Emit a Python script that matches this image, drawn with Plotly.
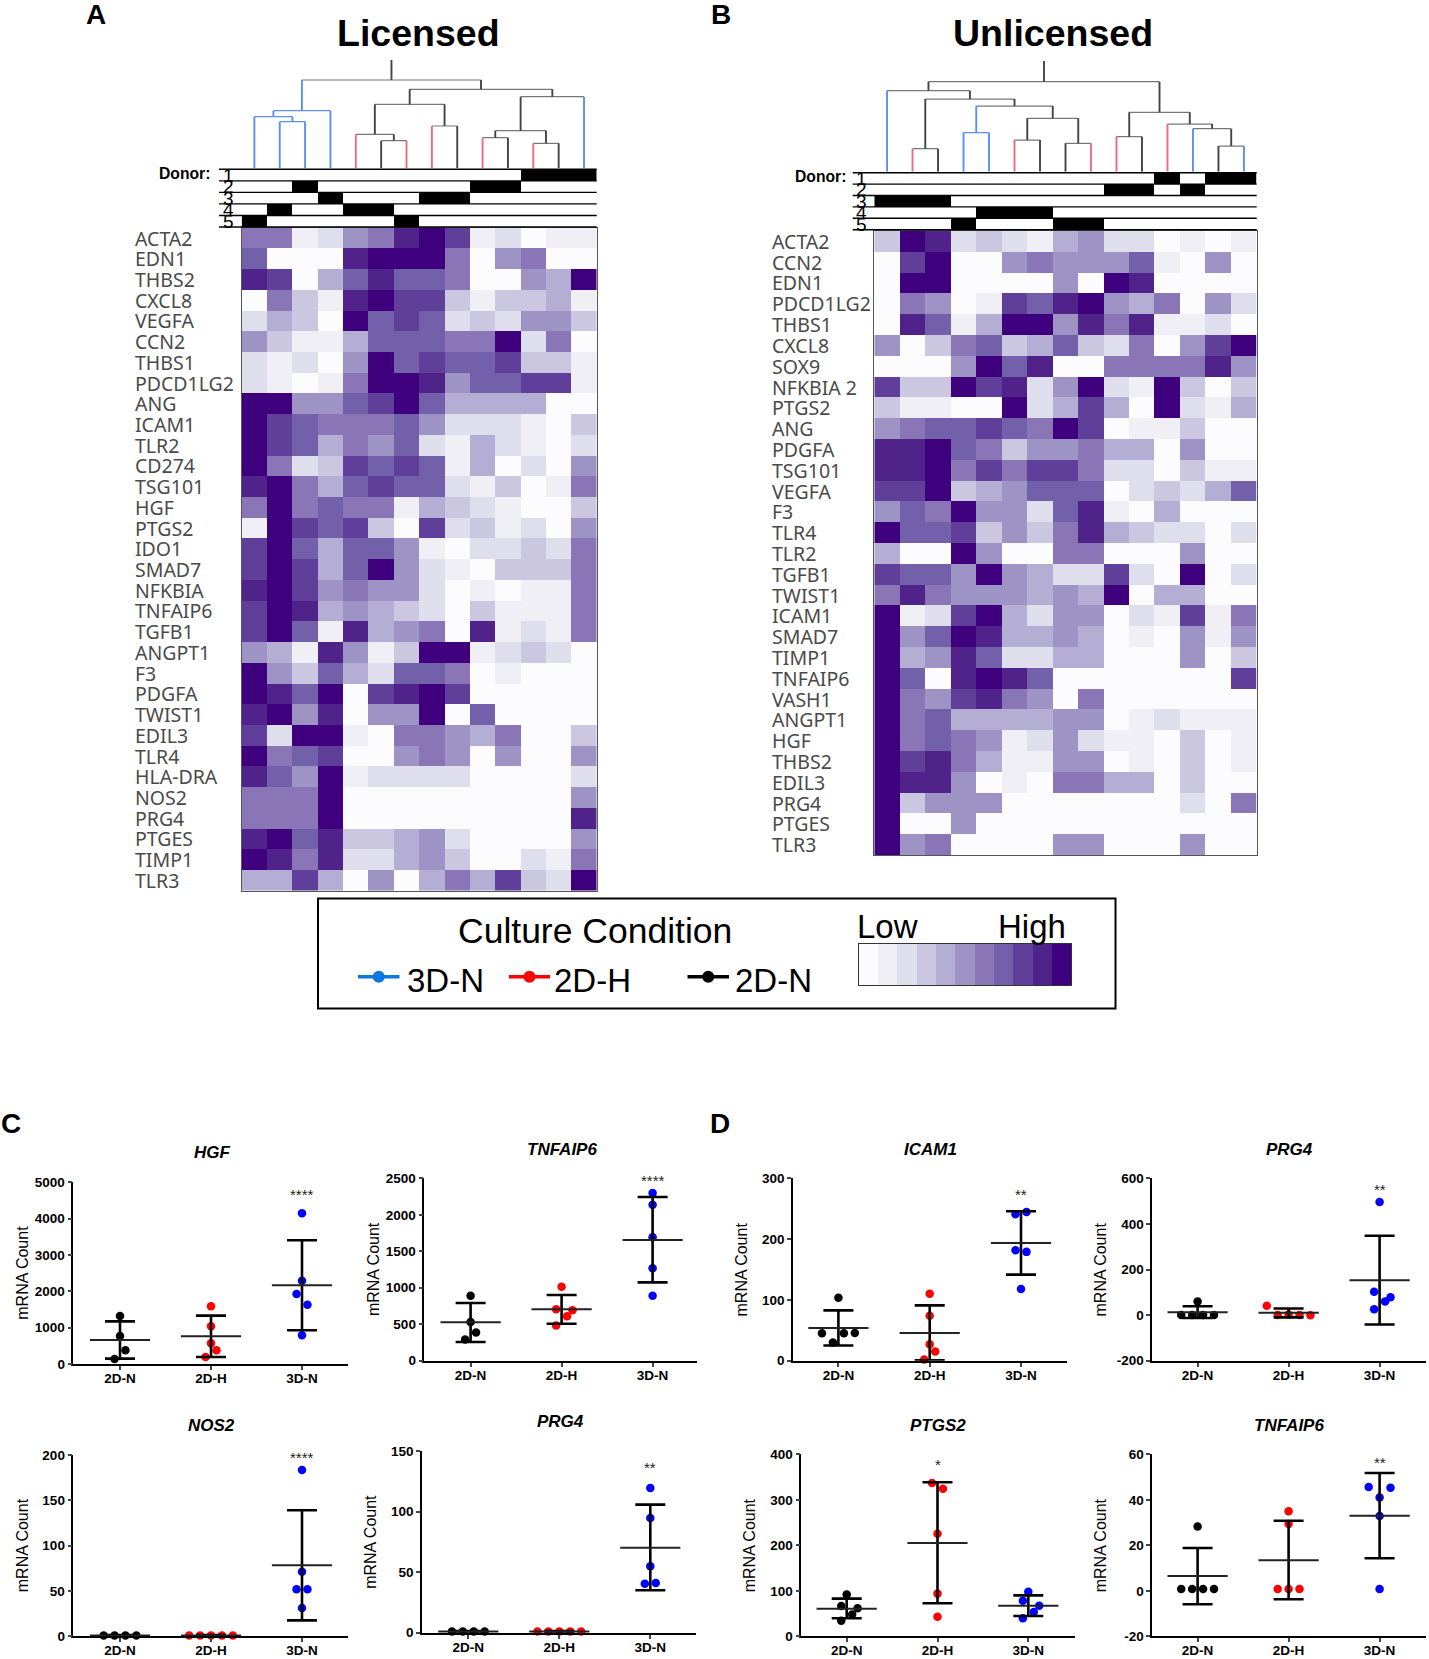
import plotly.graph_objects as go

W = 1429
H = 1659

# heatmap A, values are colour levels 0 (low) to 10 (high)
GENES_A = ["ACTA2", "EDN1", "THBS2", "CXCL8", "VEGFA", "CCN2", "THBS1", "PDCD1LG2", "ANG", "ICAM1", "TLR2",
           "CD274", "TSG101", "HGF", "PTGS2", "IDO1", "SMAD7", "NFKBIA", "TNFAIP6", "TGFB1", "ANGPT1", "F3",
           "PDGFA", "TWIST1", "EDIL3", "TLR4", "HLA-DRA", "NOS2", "PRG4", "PTGES", "TIMP1", "TLR3"]
LEVELS_A = [
    [6, 6, 1, 2, 5, 6, 9, 10, 8, 1, 2, 0, 1, 1],
    [7, 0, 0, 0, 9, 10, 10, 10, 6, 0, 5, 6, 0, 0],
    [9, 8, 0, 4, 7, 9, 7, 7, 6, 0, 0, 5, 4, 10],
    [0, 6, 3, 1, 9, 10, 8, 8, 3, 1, 3, 3, 4, 1],
    [2, 4, 3, 0, 10, 7, 8, 7, 2, 3, 2, 5, 5, 3],
    [5, 3, 1, 1, 4, 7, 7, 7, 6, 6, 10, 2, 6, 0],
    [2, 1, 2, 0, 5, 10, 7, 8, 7, 7, 8, 3, 3, 1],
    [2, 1, 0, 1, 6, 10, 10, 9, 5, 7, 7, 8, 8, 1],
    [10, 10, 5, 5, 7, 8, 10, 7, 4, 4, 4, 4, 0, 0],
    [10, 8, 7, 6, 6, 6, 7, 5, 2, 2, 2, 1, 0, 3],
    [10, 8, 7, 4, 6, 5, 7, 2, 1, 4, 2, 1, 0, 2],
    [10, 6, 2, 3, 8, 7, 8, 7, 1, 4, 0, 2, 0, 5],
    [9, 10, 6, 4, 7, 8, 7, 7, 2, 1, 3, 0, 1, 6],
    [6, 10, 6, 7, 6, 6, 1, 4, 3, 2, 1, 0, 0, 3],
    [1, 10, 8, 7, 8, 3, 0, 8, 2, 3, 1, 2, 0, 5],
    [8, 10, 7, 4, 7, 7, 5, 1, 0, 2, 2, 3, 2, 6],
    [8, 10, 8, 4, 7, 10, 5, 2, 1, 0, 3, 3, 3, 6],
    [9, 10, 8, 5, 6, 5, 5, 2, 0, 1, 0, 1, 1, 6],
    [8, 10, 9, 4, 5, 4, 3, 2, 0, 3, 1, 1, 1, 6],
    [8, 10, 7, 1, 9, 4, 5, 6, 0, 9, 1, 2, 1, 6],
    [5, 4, 1, 9, 5, 1, 3, 10, 10, 1, 2, 3, 2, 0],
    [10, 5, 3, 7, 4, 2, 7, 7, 6, 0, 1, 0, 0, 0],
    [10, 9, 7, 10, 0, 8, 9, 10, 8, 0, 0, 0, 0, 0],
    [9, 10, 5, 9, 0, 5, 5, 10, 0, 7, 0, 0, 0, 0],
    [8, 2, 10, 10, 1, 0, 6, 6, 5, 4, 6, 0, 0, 3],
    [10, 6, 7, 8, 0, 0, 5, 6, 5, 0, 5, 0, 0, 5],
    [9, 7, 5, 10, 1, 2, 2, 2, 2, 0, 0, 0, 0, 2],
    [6, 6, 6, 10, 0, 0, 0, 0, 0, 0, 0, 0, 0, 5],
    [6, 6, 6, 10, 0, 0, 0, 0, 0, 0, 0, 0, 0, 9],
    [9, 10, 7, 9, 3, 3, 4, 5, 2, 0, 0, 0, 0, 5],
    [10, 9, 6, 9, 2, 2, 4, 5, 3, 0, 0, 2, 1, 6],
    [4, 4, 8, 4, 0, 5, 0, 4, 6, 4, 8, 3, 2, 10],
]

GENES_B = ["ACTA2", "CCN2", "EDN1", "PDCD1LG2", "THBS1", "CXCL8", "SOX9", "NFKBIA 2", "PTGS2", "ANG", "PDGFA",
           "TSG101", "VEGFA", "F3", "TLR4", "TLR2", "TGFB1", "TWIST1", "ICAM1", "SMAD7", "TIMP1", "TNFAIP6",
           "VASH1", "ANGPT1", "HGF", "THBS2", "EDIL3", "PRG4", "PTGES", "TLR3"]
LEVELS_B = [
    [3, 10, 9, 2, 3, 2, 1, 4, 5, 2, 2, 0, 1, 0, 1],
    [0, 8, 10, 0, 0, 5, 6, 5, 5, 5, 7, 1, 0, 5, 0],
    [0, 10, 10, 0, 0, 0, 0, 5, 0, 10, 9, 0, 0, 0, 0],
    [0, 6, 5, 0, 1, 8, 7, 9, 10, 5, 4, 6, 0, 5, 2],
    [0, 9, 7, 1, 4, 10, 10, 5, 9, 6, 9, 1, 1, 2, 0],
    [5, 0, 3, 6, 7, 3, 4, 7, 3, 2, 6, 0, 5, 8, 10],
    [0, 0, 0, 5, 10, 7, 9, 0, 0, 6, 6, 6, 6, 9, 5],
    [8, 3, 3, 10, 8, 9, 2, 5, 10, 2, 1, 10, 3, 0, 3],
    [3, 1, 1, 0, 0, 10, 2, 4, 8, 4, 0, 10, 2, 1, 4],
    [5, 6, 7, 7, 8, 7, 6, 10, 8, 0, 1, 1, 3, 0, 0],
    [9, 9, 10, 7, 6, 3, 5, 5, 6, 4, 4, 0, 5, 0, 0],
    [9, 9, 10, 6, 8, 6, 8, 8, 6, 2, 2, 0, 3, 1, 1],
    [8, 8, 10, 3, 4, 5, 7, 7, 7, 0, 2, 3, 2, 4, 7],
    [5, 7, 6, 10, 5, 5, 2, 7, 9, 1, 0, 4, 0, 0, 0],
    [10, 7, 7, 8, 3, 5, 3, 6, 9, 4, 3, 2, 2, 0, 2],
    [4, 0, 0, 10, 5, 0, 0, 6, 6, 0, 0, 0, 5, 0, 0],
    [8, 7, 7, 5, 10, 5, 4, 2, 2, 8, 2, 0, 10, 0, 2],
    [6, 9, 6, 5, 5, 5, 4, 5, 4, 10, 0, 4, 4, 0, 0],
    [10, 1, 2, 8, 10, 4, 2, 5, 5, 0, 2, 1, 8, 1, 6],
    [10, 5, 7, 10, 9, 4, 4, 5, 4, 0, 1, 0, 5, 1, 5],
    [10, 4, 5, 9, 7, 2, 2, 4, 4, 0, 0, 0, 5, 0, 3],
    [10, 7, 0, 9, 10, 9, 7, 0, 0, 0, 0, 0, 0, 0, 8],
    [10, 6, 5, 8, 9, 6, 5, 0, 6, 0, 0, 0, 0, 0, 0],
    [10, 6, 7, 4, 4, 4, 4, 5, 5, 0, 1, 2, 1, 1, 1],
    [10, 6, 7, 6, 5, 1, 2, 5, 2, 1, 1, 0, 3, 0, 1],
    [10, 8, 9, 6, 4, 1, 1, 5, 5, 0, 1, 0, 3, 0, 1],
    [10, 9, 9, 5, 0, 1, 0, 6, 6, 4, 4, 0, 3, 0, 0],
    [10, 3, 5, 5, 5, 0, 0, 0, 0, 0, 0, 0, 2, 0, 6],
    [10, 0, 0, 5, 0, 0, 0, 0, 0, 0, 0, 0, 0, 0, 0],
    [10, 5, 6, 0, 0, 0, 0, 5, 5, 0, 0, 0, 5, 0, 0],
]

# which columns each donor (1-5) covers
DONOR_COLS_A = [[11, 12, 13], [2, 9, 10], [3, 7, 8], [1, 4, 5], [0, 6]]
DONOR_COLS_B = [[11, 13, 14], [9, 10, 12], [0, 1, 2], [4, 5, 6], [3, 7, 8]]

# dendrograms: merges as (left, right, height), ids above the leaf count are earlier merges
LEAF_COND_A = ["3D", "3D", "3D", "3D", "2H", "2N", "2H", "2H", "2N", "2H", "2N", "2H", "2N", "3D"]
MERGES_A = [(1, 2, 140), (0, 14, 155), (15, 3, 173), (5, 6, 83), (4, 17, 102), (7, 8, 127), (18, 19, 192),
            (9, 10, 92), (11, 12, 75), (21, 22, 113), (23, 13, 215), (20, 24, 237), (16, 25, 265)]
BLUE_MERGES_A = [0, 1, 2]
ROOT_TOP_A = 325

LEAF_COND_B = ["3D", "2H", "2N", "3D", "3D", "2H", "2N", "2N", "2H", "2H", "2N", "2H", "3D", "2N", "3D"]
MERGES_B = [(1, 2, 69), (3, 4, 117), (5, 6, 95), (7, 8, 85), (17, 18, 160), (16, 19, 197), (15, 20, 218),
            (0, 21, 243), (9, 10, 105), (13, 14, 77), (12, 24, 129), (11, 25, 143), (23, 26, 178), (22, 27, 270)]
BLUE_MERGES_B = [1]
ROOT_TOP_B = 333

CONDITIONS = ["2D-N", "2D-H", "3D-N"]

# dot plots: per group values and side shift of the dots, then mean and error bar ends
HGF_POINTS = [[1321, 770, 376, 138], [1587, 1037, 569, 376, 193], [4147, 2293, 1926, 1633, 789]]
HGF_DODGE = [[0, 0, 0.06, -0.06], [0, 0, 0, 0.06, -0.06], [0, 0, -0.06, 0.06, 0]]
HGF_MEAN = [660, 761, 2165]
HGF_UPPER = [1174, 1330, 3404]
HGF_LOWER = [147, 193, 927]

TNF_C_POINTS = [[891, 530, 388, 292], [1015, 704, 690, 608, 484], [2299, 2139, 1691, 1266, 891]]
TNF_C_DODGE = [[0, 0, 0.06, -0.06], [0, -0.06, 0.12, 0.06, -0.06], [0, 0, 0, 0, 0]]
TNF_C_MEAN = [526, 704, 1654]
TNF_C_UPPER = [791, 900, 2244]
TNF_C_LOWER = [256, 507, 1074]

NOS2_POINTS = [[1, 1, 1, 1], [1, 1, 1, 1, 1], [183.4, 71.3, 51.8, 51.8, 31.2]]
NOS2_DODGE = [[-0.18, -0.06, 0.06, 0.18], [-0.24, -0.12, 0, 0.12, 0.24], [0, 0, -0.06, 0.06, 0]]
NOS2_MEAN = [1, 1, 78.3]
NOS2_UPPER = [1.3, 1.3, 139]
NOS2_LOWER = [0.7, 0.7, 17.6]

PRG4_C_POINTS = [[1, 1, 1, 1], [1, 1, 1, 1, 1], [119.4, 94.7, 54.8, 40.5, 41]]
PRG4_C_DODGE = [[-0.18, -0.06, 0.06, 0.18], [-0.24, -0.12, 0, 0.12, 0.24], [0, 0, 0, -0.06, 0.06]]
PRG4_C_MEAN = [1, 1, 70.2]
PRG4_C_UPPER = [1.3, 1.3, 105.7]
PRG4_C_LOWER = [0.7, 0.7, 35]

ICAM1_POINTS = [[103.6, 45, 45, 45.5, 30], [110, 74, 27, 15, 2], [244.6, 241, 181.5, 179, 118]]
ICAM1_DODGE = [[0, -0.18, 0.06, 0.18, -0.06], [0, 0, 0, 0.06, -0.06], [0.06, -0.06, -0.06, 0.06, 0]]
ICAM1_MEAN = [53.7, 45.5, 193.6]
ICAM1_UPPER = [82.8, 91, 245.7]
ICAM1_LOWER = [25, 0.5, 141.5]

PRG4_D_POINTS = [[60, 0, 0, 0, 0], [41, 0, 3, 0, -1], [496, 102, 78, 60, 26]]
PRG4_D_DODGE = [[0, -0.18, -0.06, 0.06, 0.18], [-0.24, -0.12, 0, 0.12, 0.24], [0, -0.06, 0.12, 0.06, -0.06]]
PRG4_D_MEAN = [13, 10, 153]
PRG4_D_UPPER = [39, 29, 348]
PRG4_D_LOWER = [-13, -10, -41]

PTGS2_POINTS = [[91.6, 66.7, 61.5, 48, 34], [337, 324.5, 225.6, 93.8, 43], [98, 78, 67, 53.5, 39.6]]
PTGS2_DODGE = [[0, -0.06, 0.12, 0.06, -0.06], [-0.06, 0.06, 0, 0, 0], [0, -0.06, 0.12, 0.06, -0.06]]
PTGS2_MEAN = [60.8, 205, 67.4]
PTGS2_UPPER = [82.8, 338.5, 90]
PTGS2_LOWER = [39.6, 72.5, 44.7]

TNF_D_POINTS = [[28.3, 0.8, 0.8, 0.8, 0.8], [35, 29.4, 0.8, 0.8, 0.8], [45.6, 45.3, 41, 32.9, 0.8]]
TNF_D_DODGE = [[0, -0.18, -0.06, 0.06, 0.18], [0, 0, -0.12, 0, 0.12], [-0.12, 0.12, 0, 0, 0]]
TNF_D_MEAN = [6.5, 13.4, 33]
TNF_D_UPPER = [18.8, 30.8, 51.8]
TNF_D_LOWER = [-5.9, -3.7, 14.3]

LEVEL_COLORS = ["#fcfbfd", "#f0eff6", "#dfdeed", "#cbc7e1", "#b5aed4", "#9e93c5",
                "#8a76b7", "#7360aa", "#5f3f9a", "#4f2389", "#3f007d"]
SCALE = [[i / 10, c] for i, c in enumerate(LEVEL_COLORS)]
COND_COLORS = {"3D": "#5b8ff0", "2H": "#ee6a80", "2N": "#444444"}
DOT_COLORS = ["#000000", "#ff0000", "#0000ff"]

fig = go.Figure()
axis_count = 0
annotations = []
shapes = []


def px(x):
    return x / W


def py(y):
    return 1 - y / H


def new_axes(left, right, top, bottom, xconf, yconf):
    # registers an axis pair placed by page pixels, returns the trace refs
    global axis_count
    axis_count += 1
    n = axis_count
    xname = "x" if n == 1 else f"x{n}"
    yname = "y" if n == 1 else f"y{n}"
    fig.update_layout(**{
        f"xaxis{n}": dict(domain=[px(left), px(right)], anchor=yname, **xconf),
        f"yaxis{n}": dict(domain=[py(bottom), py(top)], anchor=xname, **yconf),
    })
    return xname, yname


def page_text(x, y, text, size, family="Liberation Sans", color="black", anchor="center", angle=0, **font):
    annotations.append(dict(xref="paper", yref="paper", x=px(x), y=py(y), text=text, showarrow=False,
                            xanchor=anchor, yanchor="middle", textangle=angle,
                            font=dict(family=family, size=size, color=color, **font)))


def draw_dendrogram(left, right, top, bottom, leaf_cond, merges, blue_merges, root_top):
    n = len(leaf_cond)
    xa, ya = new_axes(left, right, top, bottom,
                      dict(range=[-0.5, n - 0.5], visible=False),
                      dict(range=[0, root_top], visible=False))
    pos = {i: (i, 0) for i in range(n)}
    stems = {c: ([], []) for c in ["3D", "2H", "2N"]}
    bars = {"3D": ([], []), "2N": ([], [])}
    for k, (a, b, h) in enumerate(merges):
        cond = "3D" if k in blue_merges else "2N"
        for child in (a, b):
            x0, y0 = pos[child]
            if child < n:
                col = leaf_cond[child]
            else:
                col = "3D" if child - n in blue_merges else "2N"
            stems[col][0].extend([x0, x0, None])
            stems[col][1].extend([y0, h, None])
        bars[cond][0].extend([pos[a][0], pos[b][0], None])
        bars[cond][1].extend([h, h, None])
        pos[n + k] = ((pos[a][0] + pos[b][0]) / 2, h)
    # stem above the root
    last = pos[n + len(merges) - 1]
    stems["2N"][0].extend([last[0], last[0], None])
    stems["2N"][1].extend([last[1], root_top, None])
    for cond, (xs, ys) in bars.items():
        col = COND_COLORS[cond] if cond == "3D" else "#777777"
        fig.add_trace(go.Scatter(x=xs, y=ys, xaxis=xa, yaxis=ya, mode="lines", line=dict(color=col, width=1.2),
                                 hoverinfo="skip", showlegend=False))
    for cond, (xs, ys) in stems.items():
        fig.add_trace(go.Scatter(x=xs, y=ys, xaxis=xa, yaxis=ya, mode="lines",
                                 line=dict(color=COND_COLORS[cond], width=1.9),
                                 hoverinfo="skip", showlegend=False))


def draw_donors(left, right, top, bottom, line_left, num_x, donor_cols, n):
    z = [[1 if c in cols else 0 for c in range(n)] for cols in donor_cols]
    xa, ya = new_axes(left, right, top, bottom,
                      dict(range=[-0.5, n - 0.5], visible=False),
                      dict(range=[4.5, -0.5], visible=False))
    fig.add_trace(go.Heatmap(z=z, x=list(range(n)), y=list(range(5)), xaxis=xa, yaxis=ya, zmin=0, zmax=1,
                             colorscale=[[0, "white"], [1, "black"]], showscale=False, hoverinfo="skip"))
    step = (bottom - top) / 5
    for i in range(6):
        shapes.append(dict(type="line", xref="paper", yref="paper", x0=px(line_left), x1=px(right),
                           y0=py(top + i * step), y1=py(top + i * step), line=dict(color="black", width=1.4)))
    for i in range(5):
        page_text(num_x, top + (i + 0.5) * step, str(i + 1), 19)


def draw_heatmap(left, right, top, bottom, label_x, genes, levels):
    n = len(levels[0])
    xa, ya = new_axes(left, right, top, bottom,
                      dict(range=[-0.5, n - 0.5], showticklabels=False, ticks="", showgrid=False, zeroline=False,
                           mirror=True, showline=True, linecolor="#555555", linewidth=1),
                      dict(range=[len(genes) - 0.5, -0.5], showticklabels=False, ticks="", showgrid=False,
                           zeroline=False, mirror=True, showline=True, linecolor="#555555", linewidth=1))
    fig.add_trace(go.Heatmap(z=levels, x=list(range(n)), y=list(range(len(genes))), xaxis=xa, yaxis=ya,
                             zmin=0, zmax=10, colorscale=SCALE, showscale=False,
                             customdata=[[g] * n for g in genes], hovertemplate="%{customdata}: %{z}<extra></extra>"))
    step = (bottom - top) / len(genes)
    for i, g in enumerate(genes):
        page_text(label_x, top + (i + 0.5) * step, g, 19.5, family="Noto Sans", color="#4a4a4a", anchor="left")


def draw_dots(x0, x1, y_top, y_bot, c0, step, title, title_xy, label_x, yticks, points, dodge, mean, upper, lower,
              star=None):
    tickfont = dict(family="Liberation Sans", size=13.5, color="black", weight="bold")
    xa, ya = new_axes(x0, x1, y_top, y_bot,
                      dict(range=[(x0 - c0) / step, (x1 - c0) / step], tickvals=[0, 1, 2], ticktext=CONDITIONS,
                           showgrid=False, zeroline=False, showline=True, linecolor="black", linewidth=1.6,
                           ticks="outside", ticklen=4, tickwidth=1.6, tickfont=tickfont, ticklabelstandoff=-3),
                      dict(range=[yticks[0], yticks[-1]], tickvals=yticks, ticktext=[str(t) for t in yticks],
                           showgrid=False, zeroline=False, showline=True, linecolor="black", linewidth=1.6,
                           ticks="outside", ticklen=4, tickwidth=1.6, tickfont=tickfont))
    for g in range(3):
        fig.add_trace(go.Scatter(x=[g + d for d in dodge[g]], y=points[g], xaxis=xa, yaxis=ya, mode="markers",
                                 marker=dict(color=DOT_COLORS[g], size=8.5), cliponaxis=False,
                                 name=CONDITIONS[g], showlegend=False))
    fig.add_trace(go.Scatter(x=[0, 1, 2], y=mean, xaxis=xa, yaxis=ya, mode="markers", cliponaxis=False,
                             marker=dict(symbol="line-ew", size=43, color="black",
                                         line=dict(color="#222222", width=2)),
                             error_y=dict(type="data", symmetric=False, color="black", thickness=2.6, width=15,
                                          array=[u - m for u, m in zip(upper, mean)],
                                          arrayminus=[m - l for l, m in zip(lower, mean)]),
                             hoverinfo="skip", showlegend=False))
    page_text(title_xy[0], title_xy[1], title, 17, weight="bold", style="italic")
    page_text(label_x, (y_top + y_bot) / 2, "mRNA Count", 16, angle=-90)
    if star:
        annotations.append(dict(xref=xa, yref=ya, x=star[0], y=star[1], text=star[2], showarrow=False,
                                yanchor="middle", font=dict(family="Liberation Sans", size=15, color="#222222")))


# panel A
draw_dendrogram(241.7, 596.7, 60, 168.3, LEAF_COND_A, MERGES_A, BLUE_MERGES_A, ROOT_TOP_A)
draw_donors(241.7, 596.7, 169.3, 227, 219, 228, DONOR_COLS_A, 14)
draw_heatmap(241.7, 596.7, 227.7, 890.7, 133, GENES_A, LEVELS_A)
page_text(418, 33, "Licensed", 37.5, weight="bold")
page_text(185, 174, "Donor:", 15.7, weight="bold")
page_text(96, 15, "A", 28, weight="bold")

# panel B
draw_dendrogram(874.3, 1256.7, 60.7, 171.7, LEAF_COND_B, MERGES_B, BLUE_MERGES_B, ROOT_TOP_B)
draw_donors(874.3, 1256.7, 172.7, 229.7, 852.7, 861.7, DONOR_COLS_B, 15)
draw_heatmap(874.3, 1256.7, 231, 855, 770, GENES_B, LEVELS_B)
page_text(1052.7, 33, "Unlicensed", 37.5, weight="bold")
page_text(821, 176.7, "Donor:", 15.7, weight="bold")
page_text(721, 15, "B", 28, weight="bold")

# legend box
shapes.append(dict(type="rect", xref="paper", yref="paper", x0=px(318), x1=px(1115.5), y0=py(898.5), y1=py(1008.5),
                   line=dict(color="black", width=2)))
page_text(595, 931, "Culture Condition", 35.5)
for lx0, lx1, tx, label, col in [(358, 399.5, 445.6, "3D-N", "#0a78e0"), (509, 550, 592.7, "2D-H", "#ff0000"),
                                 (687.5, 729, 773.8, "2D-N", "#000000")]:
    shapes.append(dict(type="line", xref="paper", yref="paper", x0=px(lx0), x1=px(lx1), y0=py(976.7), y1=py(976.7),
                       line=dict(color=col, width=3.5)))
    shapes.append(dict(type="circle", xref="paper", yref="paper", xsizemode="pixel", ysizemode="pixel",
                       xanchor=px((lx0 + lx1) / 2), yanchor=py(976.7), x0=-6, x1=6, y0=-6, y1=6,
                       fillcolor=col, line=dict(color=col, width=0)))
    page_text(tx, 980, label, 33)
page_text(887.6, 926.7, "Low", 33)
page_text(1032, 926.7, "High", 33)
xa, ya = new_axes(858.5, 1071, 944, 985,
                  dict(range=[-0.5, 10.5], showticklabels=False, ticks="", showgrid=False, zeroline=False,
                       mirror=True, showline=True, linecolor="#333333", linewidth=1),
                  dict(range=[-0.5, 0.5], showticklabels=False, ticks="", showgrid=False, zeroline=False,
                       mirror=True, showline=True, linecolor="#333333", linewidth=1))
fig.add_trace(go.Heatmap(z=[list(range(11))], x=list(range(11)), y=[0], xaxis=xa, yaxis=ya, zmin=0, zmax=10,
                         colorscale=SCALE, showscale=False, hoverinfo="skip"))

# panel C
page_text(11, 1123, "C", 28, weight="bold")
draw_dots(73.4, 347.8, 1182.3, 1364, 120, 91, "HGF", (212, 1152.7), 22.6, [0, 1000, 2000, 3000, 4000, 5000],
          HGF_POINTS, HGF_DODGE, HGF_MEAN, HGF_UPPER, HGF_LOWER, (2, 4660, "****"))
draw_dots(424.4, 696.5, 1178.3, 1360.7, 470.6, 91, "TNFAIP6", (561.6, 1149), 373.6, [0, 500, 1000, 1500, 2000, 2500],
          TNF_C_POINTS, TNF_C_DODGE, TNF_C_MEAN, TNF_C_UPPER, TNF_C_LOWER, (2, 2468, "****"))
draw_dots(73.4, 347.8, 1455, 1636.3, 120, 91, "NOS2", (211.5, 1425.7), 22.6, [0, 50, 100, 150, 200],
          NOS2_POINTS, NOS2_DODGE, NOS2_MEAN, NOS2_UPPER, NOS2_LOWER, (2, 197, "****"))
draw_dots(422, 696, 1451, 1632.7, 468.3, 91, "PRG4", (560, 1421.7), 371, [0, 50, 100, 150],
          PRG4_C_POINTS, PRG4_C_DODGE, PRG4_C_MEAN, PRG4_C_UPPER, PRG4_C_LOWER, (2, 136, "**"))

# panel D
page_text(720, 1123, "D", 28, weight="bold")
draw_dots(793, 1066.9, 1178.3, 1360.7, 838.4, 91.3, "ICAM1", (930, 1149), 741, [0, 100, 200, 300],
          ICAM1_POINTS, ICAM1_DODGE, ICAM1_MEAN, ICAM1_UPPER, ICAM1_LOWER, (2, 273, "**"))
draw_dots(1152.2, 1425.6, 1178.3, 1360.7, 1197.6, 91, "PRG4", (1289, 1149), 1100, [-200, 0, 200, 400, 600],
          PRG4_D_POINTS, PRG4_D_DODGE, PRG4_D_MEAN, PRG4_D_UPPER, PRG4_D_LOWER, (2, 551, "**"))
draw_dots(801.3, 1074.7, 1454.3, 1636.3, 846.7, 90.8, "PTGS2", (938, 1425), 749, [0, 100, 200, 300, 400],
          PTGS2_POINTS, PTGS2_DODGE, PTGS2_MEAN, PTGS2_UPPER, PTGS2_LOWER, (1, 378, "*"))
draw_dots(1152.2, 1425.6, 1454.3, 1636.3, 1197.6, 91, "TNFAIP6", (1289, 1425), 1100, [-20, 0, 20, 40, 60],
          TNF_D_POINTS, TNF_D_DODGE, TNF_D_MEAN, TNF_D_UPPER, TNF_D_LOWER, (2, 56.6, "**"))

fig.update_layout(width=W, height=H, margin=dict(l=0, r=0, t=0, b=0, autoexpand=False), paper_bgcolor="white",
                  plot_bgcolor="white", showlegend=False, annotations=annotations, shapes=shapes)

fig.write_html("out.html", post_script="document.body.style.margin='0';", config={"displayModeBar": False})
